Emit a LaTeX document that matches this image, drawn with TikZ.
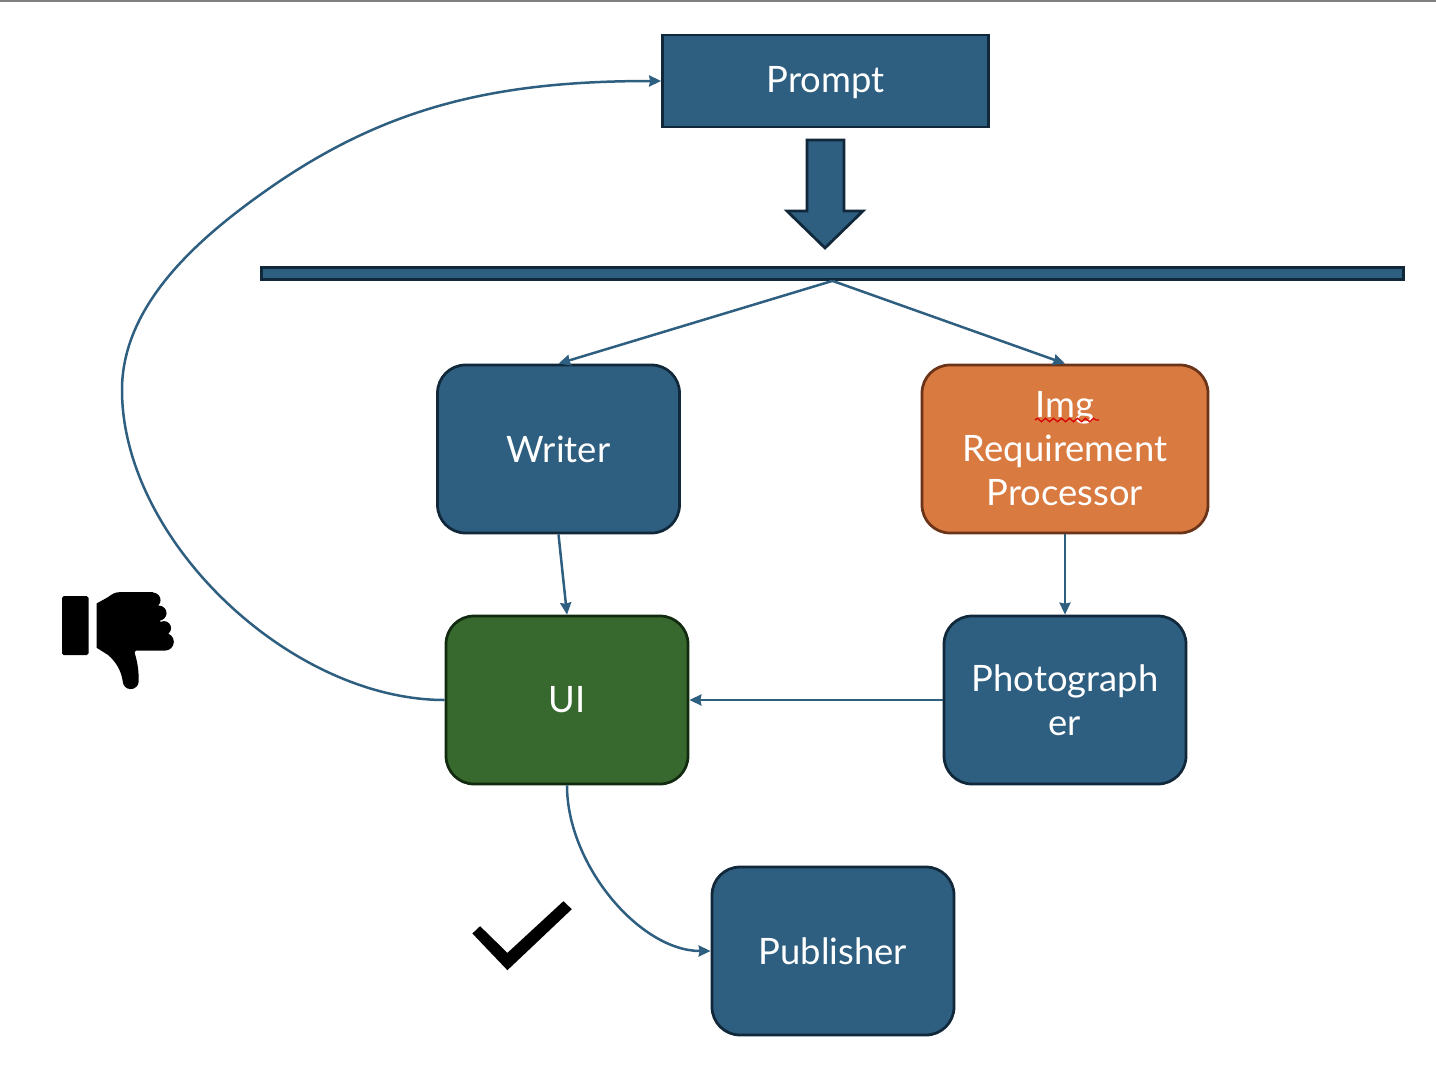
\documentclass[tikz,border=0pt]{standalone}
\usepackage{fontspec}
\setmainfont{Lato}
\usepackage{xcolor}
\usetikzlibrary{positioning}
\usetikzlibrary{arrows.meta}
\usetikzlibrary{decorations.pathmorphing}
\definecolor{tealfill}{HTML}{2E5F80}
\definecolor{tealedge}{HTML}{10283A}
\definecolor{orangefill}{HTML}{D97A41}
\definecolor{orangeedge}{HTML}{6B3318}
\definecolor{greenfill}{HTML}{37692E}
\definecolor{greenedge}{HTML}{122A10}
\tikzstyle{labelled} = [text=white, align=center, font=\fontsize{20.7}{25.1}\selectfont, line width=0.055cm]
\tikzstyle{promptbox} = [rectangle, labelled, minimum width=6.52cm, minimum height=1.84cm, text height=0.62cm, text depth=0.145cm, draw=tealedge, fill=tealfill]
\tikzstyle{agent} = [rectangle, labelled, rounded corners=0.56cm, minimum width=4.84cm, minimum height=3.36cm, draw=tealedge, fill=tealfill]
\tikzstyle{imgagent} = [agent, minimum width=5.72cm, draw=orangeedge, fill=orangefill]
\tikzstyle{uiagent} = [agent, draw=greenedge, fill=greenfill]
\tikzstyle{arrow} = [draw=tealfill, line width=0.05cm, ->, >={Stealth[length=0.24cm, width=0.22cm, inset=0.02cm]}]
\tikzstyle{icon} = [fill=black, draw=none]

\begin{document}
\begin{tikzpicture}[node distance=5.02cm]
        \useasboundingbox (0,0) rectangle (28.72,-21.68);
        \fill [gray] (0,0) rectangle (28.72,-0.04);

        \node (prompt) [promptbox] at (16.51,-1.62) {Prompt};
        \node (bar) [rectangle, minimum width=22.84cm, minimum height=0.24cm, inner sep=0pt, draw=tealedge, fill=tealfill, line width=0.055cm] at (16.65,-5.47) {};
        \node (writer) [agent] at (11.17,-8.98) {Writer};
        \node (imgproc) [imgagent, right of=writer, xshift=5.11cm] {Img\\Requirement\\Processor};
        \node (ui) [uiagent, below of=writer, xshift=0.17cm] {UI};
        \node (photographer) [agent, below of=imgproc] {Photograph\\er};
        \node (publisher) [agent, below of=ui, xshift=5.32cm] {Publisher};

        \coordinate (loopleft) at (2.44,-7.8);
        \coordinate (loopupper) at (5.54,-3.66);

        % block arrow under the prompt
        \draw [fill=tealfill, draw=tealedge, line width=0.055cm] (16.14,-2.8) -- (16.88,-2.8) -- (16.88,-4.22) -- (17.26,-4.22) -- (16.5,-4.96) -- (15.74,-4.22) -- (16.14,-4.22) -- cycle;

        \draw [arrow] (bar.south) -- (writer.north);
        \draw [arrow] (bar.south) -- (imgproc.north);
        \draw [arrow] (writer.south) -- (ui.north);
        \draw [arrow] (imgproc.south) -- (photographer.north);
        \draw [arrow] (photographer.west) -- (ui.east);
        \draw [arrow] (ui.west) .. controls (5.8,-14) and (2.44,-10.8) .. (loopleft) .. controls (2.44,-6) and (4.14,-4.62) .. (loopupper) .. controls (7.84,-2.1) and (10,-1.62) .. (prompt.west);
        \draw [arrow] (ui.south) .. controls (11.34,-17.3) and (12.8,-19.02) .. (publisher.west);

        % spelling mark under Img
        \draw [red!85!black, line width=0.025cm, decorate, decoration={snake, segment length=0.16cm, amplitude=0.035cm}] ([shift={(-0.6,0.58)}]imgproc.center) -- ([shift={(0.68,0.58)}]imgproc.center);

        % thumb down
        \begin{scope}[x=0.02cm, y=-0.02cm]
            \fill [icon, rounded corners=1pt] (62,596) -- (88.5,596) -- (88.5,655) -- (62,655) -- cycle;
            \fill [icon] (96.7,603.3) -- (108,597) .. controls (112,594) and (115,592) .. (120,592) -- (153,592) -- (165,640) -- (165,650.5) -- (136,650.5) .. controls (134,651) and (134.5,653) .. (135,654) .. controls (138,664) and (138.7,672) .. (138.7,681) -- (122.7,681) .. controls (121,670) and (116,662) .. (108.3,655) -- (96.7,647.7) -- cycle
                (153,600) circle (7.5) (159,613) circle (7.5) (164,628) circle (7) (165,641.7) circle (8.8) (130.7,681) circle (8);
            % check mark
            \fill [icon] (472.3,933.3) -- (480,926) -- (507.3,952.7) -- (563.3,901) -- (571.7,909) -- (507.3,970) -- cycle;
        \end{scope}

    \end{tikzpicture}
\end{document}
